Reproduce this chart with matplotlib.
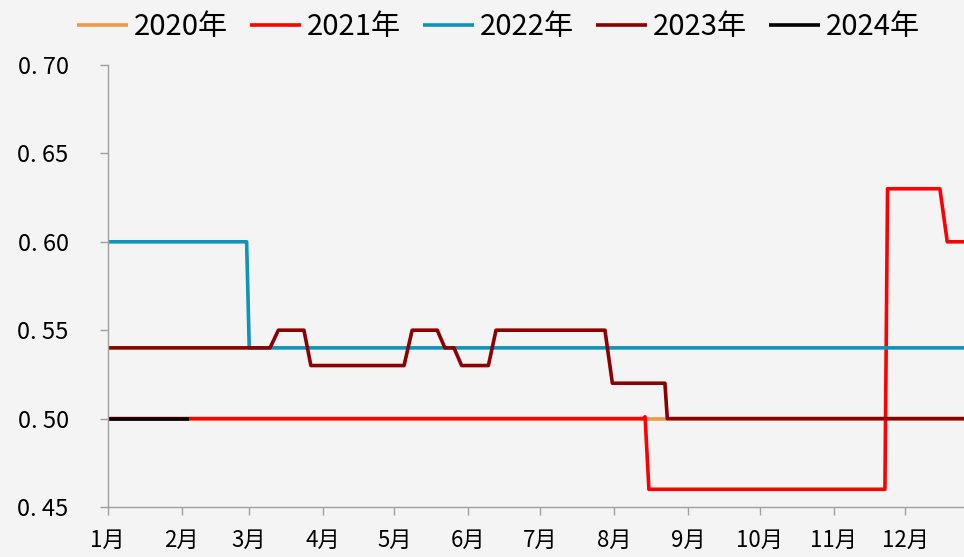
import numpy as np
import matplotlib
matplotlib.use('Agg')
import matplotlib.pyplot as plt

plt.rcParams['font.family'] = ['Noto Sans CJK SC', 'DejaVu Sans']

# Month labels and month-start day offsets (day of year, 0 = Jan 1).
months = ['1月', '2月', '3月', '4月', '5月', '6月', '7月', '8月', '9月',
          '10月', '11月', '12月']
monthStart = [0, 31, 59, 90, 120, 151, 181, 212, 243, 273, 304, 334]

yTicks = [0.45, 0.50, 0.55, 0.60, 0.65, 0.70]

# Breakpoints of each series (day of year, value).
x2020 = [0, 365]
y2020 = [0.50, 0.50]

x2021 = [0, 224.2, 225.0, 226.6, 325.4, 326.5, 348.4, 351.5, 365]
y2021 = [0.50, 0.50, 0.501, 0.46, 0.46, 0.63, 0.63, 0.60, 0.60]

x2022 = [0, 58.2, 59.3, 365]
y2022 = [0.60, 0.60, 0.54, 0.54]

x2023 = [0, 68.0, 71.5, 82.2, 85.1, 124.1, 127.5, 138.0, 141.2, 145.0,
         148.2, 159.4, 162.6, 208.2, 211.3, 233.3, 234.3, 365]
y2023 = [0.54, 0.54, 0.55, 0.55, 0.53, 0.53, 0.55, 0.55, 0.54, 0.54,
         0.53, 0.53, 0.55, 0.55, 0.52, 0.52, 0.50, 0.50]

x2024 = [0, 34.1]
y2024 = [0.50, 0.50]

series = [
  ('2020年', x2020, y2020, '#F0984A'),
  ('2021年', x2021, y2021, '#FF0000'),
  ('2022年', x2022, y2022, '#0E93BA'),
  ('2023年', x2023, y2023, '#8B0000'),
  ('2024年', x2024, y2024, '#000000'),
]

backgroundColor = '#F4F4F4'
fig = plt.figure(figsize=(9.64, 5.57), dpi=100, facecolor=backgroundColor)
ax = fig.add_axes([0.1116, 0.0898, 0.8884, 0.7935], facecolor=backgroundColor)

for name, xs, ys, color in series:
  ax.plot(xs, ys, color=color, lw=2.6, label=name, solid_joinstyle='round',
      solid_capstyle='butt')

ax.set_xlim(0, 358.5)
ax.set_ylim(0.45, 0.70)

ax.set_xticks(monthStart)
ax.set_xticklabels(months, fontsize=16)
ax.set_yticks(yTicks)
ax.yaxis.set_major_formatter(matplotlib.ticker.FuncFormatter(
    lambda v, p: ('%.2f' % v).replace('.', '. ')))
for lbl in ax.get_yticklabels():
  lbl.set_fontsize(17)

for side in ['top', 'right']:
  ax.spines[side].set_visible(False)
for side in ['left', 'bottom']:
  ax.spines[side].set_color('#A0A0A0')
  ax.spines[side].set_linewidth(1.0)
ax.tick_params(axis='both', direction='out', color='#A0A0A0', length=6,
    width=1.0, pad=10)
ax.tick_params(axis='y', pad=22, labelsize=17)

lgd = fig.legend(loc='upper center', bbox_to_anchor=(0.517, 1.025), ncol=5,
    frameon=False, fontsize=21, handlelength=1.75, handletextpad=0.2,
    columnspacing=0.75)

fig.savefig('out.png', dpi=100, facecolor=fig.get_facecolor())
